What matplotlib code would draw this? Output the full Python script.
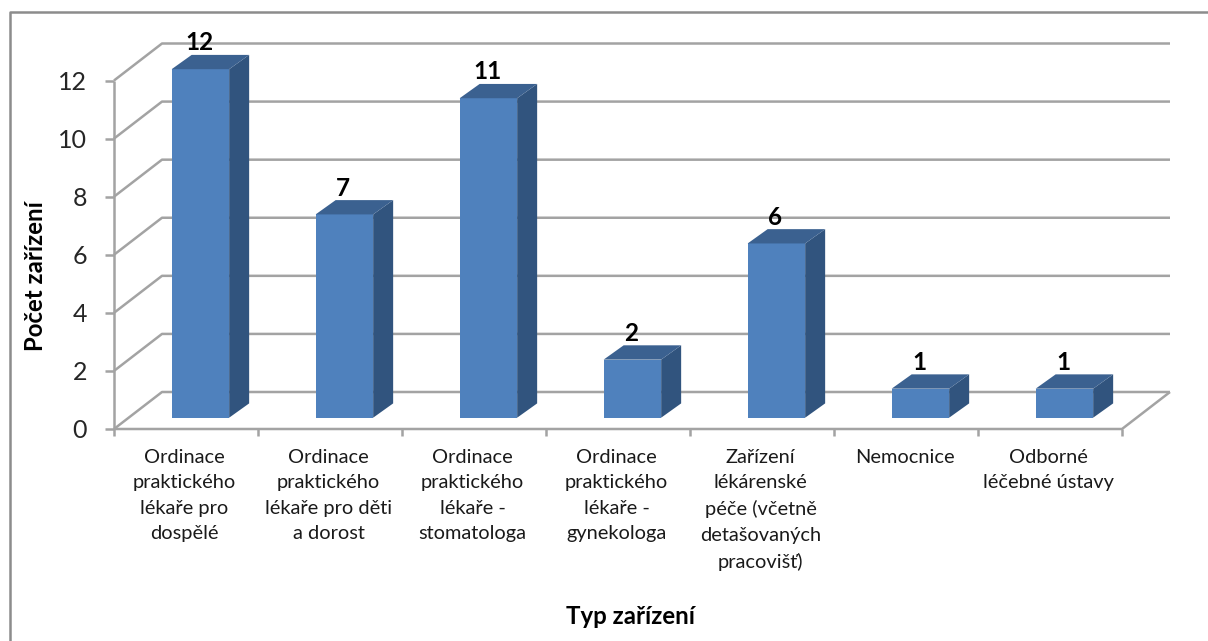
import matplotlib
matplotlib.use("Agg")
import matplotlib.pyplot as plt
from matplotlib.patches import Polygon

categories = [
    "Ordinace\npraktického\nlékaře pro\ndospělé",
    "Ordinace\npraktického\nlékaře pro děti\na dorost",
    "Ordinace\npraktického\nlékaře -\nstomatologa",
    "Ordinace\npraktického\nlékaře -\ngynekologa",
    "Zařízení\nlékárenské\npéče (včetně\ndetašovaných\npracovišť)",
    "Nemocnice",
    "Odborné\nléčebné ústavy",
]
values = [12, 7, 11, 2, 6, 1, 1]
y_ticks = [0, 2, 4, 6, 8, 10, 12]
y_title = "Počet zařízení"
x_title = "Typ zařízení"

W, H = 1208, 641
plt.rcParams['font.family'] = ['Lato', 'DejaVu Sans']
fig = plt.figure(figsize=(W / 100, H / 100), dpi=100, facecolor='white')

# plot box in pixels
L, R, B, T = 114, 1122, 429, 80.5
ax = fig.add_axes([L / W, 1 - B / H, (R - L) / W, (B - T) / H])
ax.set_xlim(0, len(values))
ax.set_ylim(0, 12)
ax.axis('off')

px = len(values) / (R - L)      # data units per pixel, x
py = 12 / (B - T)               # data units per pixel, y
dx, dy = 48 * px, 37 * py       # wall depth
GRID = '#a3a3a3'
lw = 1.8

def line(xs, ys, z=1):
    ax.plot(xs, ys, color=GRID, lw=lw, clip_on=False, zorder=z, solid_capstyle='butt')

# walls and grid
n = len(values)
for t in y_ticks:
    line([0, dx, n + dx], [t, t + dy, t + dy])
    line([-9 * px, 0], [t, t])
line([0, 0], [0, 12])
line([0, n, n + dx], [0, 0, dy])
for i in range(n + 1):
    line([i, i], [0, -7 * py])

# bars
FRONT, SIDE, TOP = '#4f81bd', '#31547e', '#3b6190'
bw = 57.5 * px
ox, oy = 14.4 * px, 11.3 * py
bdx, bdy = 20 * px, 14.3 * py
for i, v in enumerate(values):
    x0 = i + 0.5 + ox - bw / 2
    x1 = x0 + bw
    y0 = oy
    y1 = y0 + v
    ax.add_patch(Polygon([(x0, y0), (x1, y0), (x1, y1), (x0, y1)], fc=FRONT, ec='none', zorder=3, clip_on=False))
    ax.add_patch(Polygon([(x1, y0), (x1 + bdx, y0 + bdy), (x1 + bdx, y1 + bdy), (x1, y1)], fc=SIDE, ec='none', zorder=3, clip_on=False))
    ax.add_patch(Polygon([(x0, y1), (x1, y1), (x1 + bdx, y1 + bdy), (x0 + bdx, y1 + bdy)], fc=TOP, ec='none', zorder=3, clip_on=False))
    ax.text(x0 + bw / 2 - 1 * px, y1 + bdy + 0.5 * py, str(v), ha='center', va='bottom',
            fontsize=17.5, fontweight='bold', color='black', zorder=4, clip_on=False)

# tick labels
for t in y_ticks:
    ax.text(-27 * px, t - 2 * py, str(t), ha='right', va='center', fontsize=18, color='#262626', clip_on=False)
for i, c in enumerate(categories):
    ax.text(i + 0.5 - 1.5 * px, -20 * py, c, ha='center', va='top', fontsize=14.4,
            color='#1a1a1a', linespacing=1.6, clip_on=False)

# titles
fig.text(36 / W, 1 - 276 / H, y_title, rotation=90, ha='center', va='center', fontsize=17.3, fontweight='bold', color='black')
fig.text(631 / W, 1 - 617 / H, x_title, ha='center', va='center', fontsize=17.3, fontweight='bold', color='black')

# chart frame: only the top and left edges are in the crop
fig.add_artist(plt.Line2D([10 / W, 10 / W, 1], [0, 1 - 11.5 / H, 1 - 11.5 / H], color='#8c8c8c', lw=1.8))

fig.savefig('out.png', dpi=100)
